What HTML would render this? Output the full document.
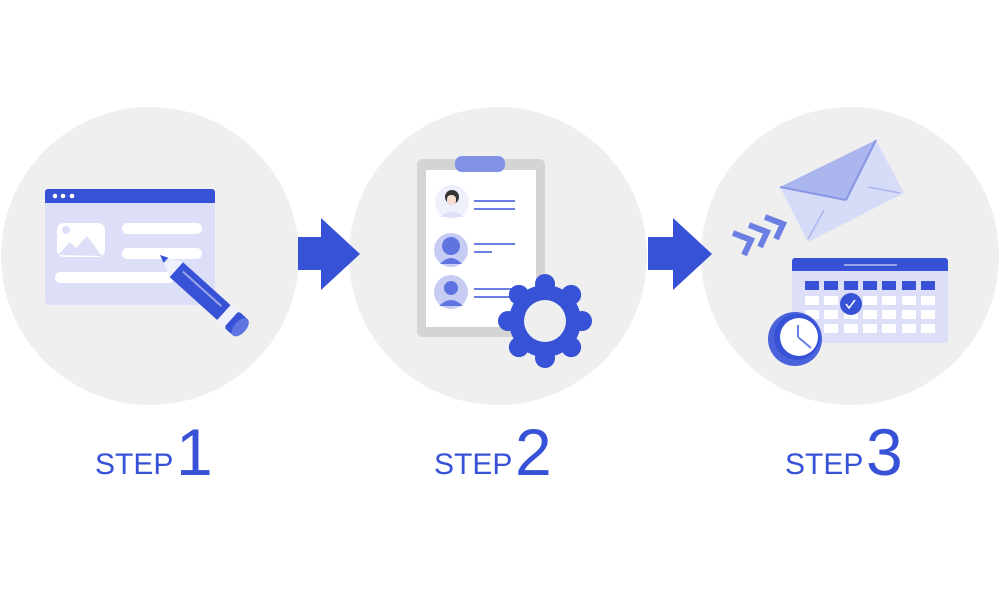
<!DOCTYPE html>
<html><head><style>
body{margin:0;width:1000px;height:600px;background:#fff;overflow:hidden;font-family:"Liberation Sans",sans-serif}
</style></head><body>
<svg width="1000" height="600" viewBox="0 0 1000 600" xmlns="http://www.w3.org/2000/svg">
<circle cx="150" cy="256" r="149" fill="#efefef"/>
<circle cx="498" cy="256" r="149" fill="#efefef"/>
<circle cx="850" cy="256" r="149" fill="#efefef"/>
<polygon points="298,237 321,237 321,218 360,254 321,290 321,270 298,270" fill="#3752d6"/>
<polygon points="648,237 673,237 673,218 712,254 673,290 673,270 648,270" fill="#3752d6"/>
<!-- step1 -->
<rect x="45" y="189" width="170" height="116" rx="3" fill="#dcdff7"/>
<path d="M45,192 a3,3 0 0 1 3,-3 h164 a3,3 0 0 1 3,3 v11 h-170z" fill="#3752d6"/>
<circle cx="55" cy="196" r="2.3" fill="#fff"/><circle cx="63" cy="196" r="2.3" fill="#fff"/><circle cx="72" cy="196" r="2.3" fill="#fff"/>
<rect x="57" y="223" width="48" height="34" rx="7" fill="#fff"/>
<circle cx="66" cy="230" r="4" fill="#dcdff7"/>
<polygon points="58,255 70,242 76,248 87,236 102,256" fill="#dcdff7"/>
<rect x="122" y="223" width="80" height="11" rx="5.5" fill="#fff"/>
<rect x="122" y="248" width="80" height="11" rx="5.5" fill="#fff"/>
<rect x="55" y="272" width="120" height="11" rx="5.5" fill="#fff"/>
<g transform="translate(160,255) rotate(42)">
<polygon points="0,0 22,-10 22,10" fill="#eef0fc"/>
<polygon points="0,0 8,-3.5 8,3.5" fill="#3752d6"/>
<rect x="22" y="-10" width="64" height="20" fill="#3752d6"/>
<rect x="28" y="-4" width="52" height="2" fill="#9aa6ea"/>
<rect x="86" y="-11" width="10" height="22" fill="#eef0fc"/>
<rect x="96" y="-11" width="12" height="22" rx="3" fill="#3752d6"/>
<ellipse cx="108" cy="0" rx="6" ry="11" fill="#5f74e0"/>
</g>
<!-- step2 -->
<rect x="417" y="159" width="128" height="178" rx="6" fill="#d4d4d4"/>
<rect x="426" y="170" width="110" height="157" fill="#fff"/>
<rect x="455" y="156" width="50" height="16" rx="7" fill="#8091e6"/>
<circle cx="452" cy="202" r="17" fill="#eef0fc"/>
<circle cx="452" cy="197" r="7" fill="#333"/><rect x="447" y="195" width="9" height="10" rx="4" fill="#f7dcd0"/>
<path d="M440,217 q12,-10 24,0z" fill="#dcdff7"/>
<circle cx="451" cy="250" r="17" fill="#c6ccf3"/>
<circle cx="451" cy="246" r="9" fill="#5f74e0"/><path d="M440,264 q11,-12 22,0z" fill="#5f74e0"/>
<circle cx="451" cy="292" r="17" fill="#c6ccf3"/>
<circle cx="451" cy="288" r="7" fill="#5f74e0"/><path d="M439,306 q12,-12 24,0z" fill="#5f74e0"/>
<g stroke="#6b7ee2" stroke-width="2"><line x1="474" y1="201" x2="515" y2="201"/><line x1="474" y1="209" x2="515" y2="209"/><line x1="474" y1="244" x2="515" y2="244"/><line x1="474" y1="252" x2="492" y2="252"/><line x1="474" y1="289" x2="512" y2="289"/><line x1="474" y1="297" x2="512" y2="297"/></g>
<g fill="#3752d6" transform="translate(545,321)">
<circle r="36"/>
<g id="t"><circle cx="0" cy="-37" r="10"/></g>
<use href="#t" transform="rotate(45)"/><use href="#t" transform="rotate(90)"/><use href="#t" transform="rotate(135)"/><use href="#t" transform="rotate(180)"/><use href="#t" transform="rotate(225)"/><use href="#t" transform="rotate(270)"/><use href="#t" transform="rotate(315)"/>
<circle r="21" fill="#efefef"/>
</g>
<!-- step3 -->
<polygon points="780,187 876,140 904,193 808,242" fill="#d6dbf7"/>
<polygon points="780,187 876,140 846,200" fill="#aab6ed"/>
<line x1="780" y1="187" x2="846" y2="200" stroke="#8797e6" stroke-width="2"/>
<line x1="876" y1="140" x2="846" y2="200" stroke="#8797e6" stroke-width="2"/>
<line x1="808" y1="239" x2="824" y2="210" stroke="#aab6ed" stroke-width="1.5"/>
<line x1="868" y1="187" x2="900" y2="193" stroke="#aab6ed" stroke-width="1.5"/>
<g fill="none" stroke="#6b7ee2" stroke-width="6" stroke-linejoin="miter">
<polyline points="733,233 751,240 744,255"/>
<polyline points="749,225 767,232 760,247"/>
<polyline points="765,217 783,224 776,239"/>
</g>
<rect x="792" y="258" width="156" height="85" rx="3" fill="#dcdff7"/>
<path d="M792,261 a3,3 0 0 1 3,-3 h150 a3,3 0 0 1 3,3 v10 h-156z" fill="#3752d6"/>
<line x1="844" y1="265" x2="897" y2="265" stroke="#b9c3f2" stroke-width="1.5"/>
<g id="row"><rect x="805" y="281" width="14" height="9"/><rect x="824" y="281" width="14" height="9"/><rect x="844" y="281" width="14" height="9"/><rect x="863" y="281" width="14" height="9"/><rect x="882" y="281" width="14" height="9"/><rect x="902" y="281" width="14" height="9"/><rect x="921" y="281" width="14" height="9"/></g>
<g fill="#3752d6"><use href="#row"/></g>
<g fill="#fff"><use href="#row" transform="translate(0,15)"/><use href="#row" transform="translate(0,29)"/><use href="#row" transform="translate(0,43)"/></g>
<circle cx="851" cy="304" r="11" fill="#3752d6"/>
<path d="M846,304 l3,4 l6,-8" stroke="#fff" stroke-width="1.5" fill="none"/>
<circle cx="795" cy="339" r="27" fill="#4a63dc"/>
<circle cx="797" cy="337" r="23" fill="#3752d6"/>
<circle cx="799" cy="337" r="19" fill="#fff"/>
<g stroke="#6b7ee2" stroke-width="2"><line x1="798" y1="337" x2="798" y2="325"/><line x1="798" y1="337" x2="811" y2="348"/></g>
<g fill="#3752d6">
<text x="95" y="474" font-size="30">STEP</text><text x="176" y="475" font-size="66">1</text>
<text x="434" y="474" font-size="30">STEP</text><text x="515" y="475" font-size="66">2</text>
<text x="785" y="474" font-size="30">STEP</text><text x="866" y="475" font-size="66">3</text>
</g>
</svg>
</body></html>
